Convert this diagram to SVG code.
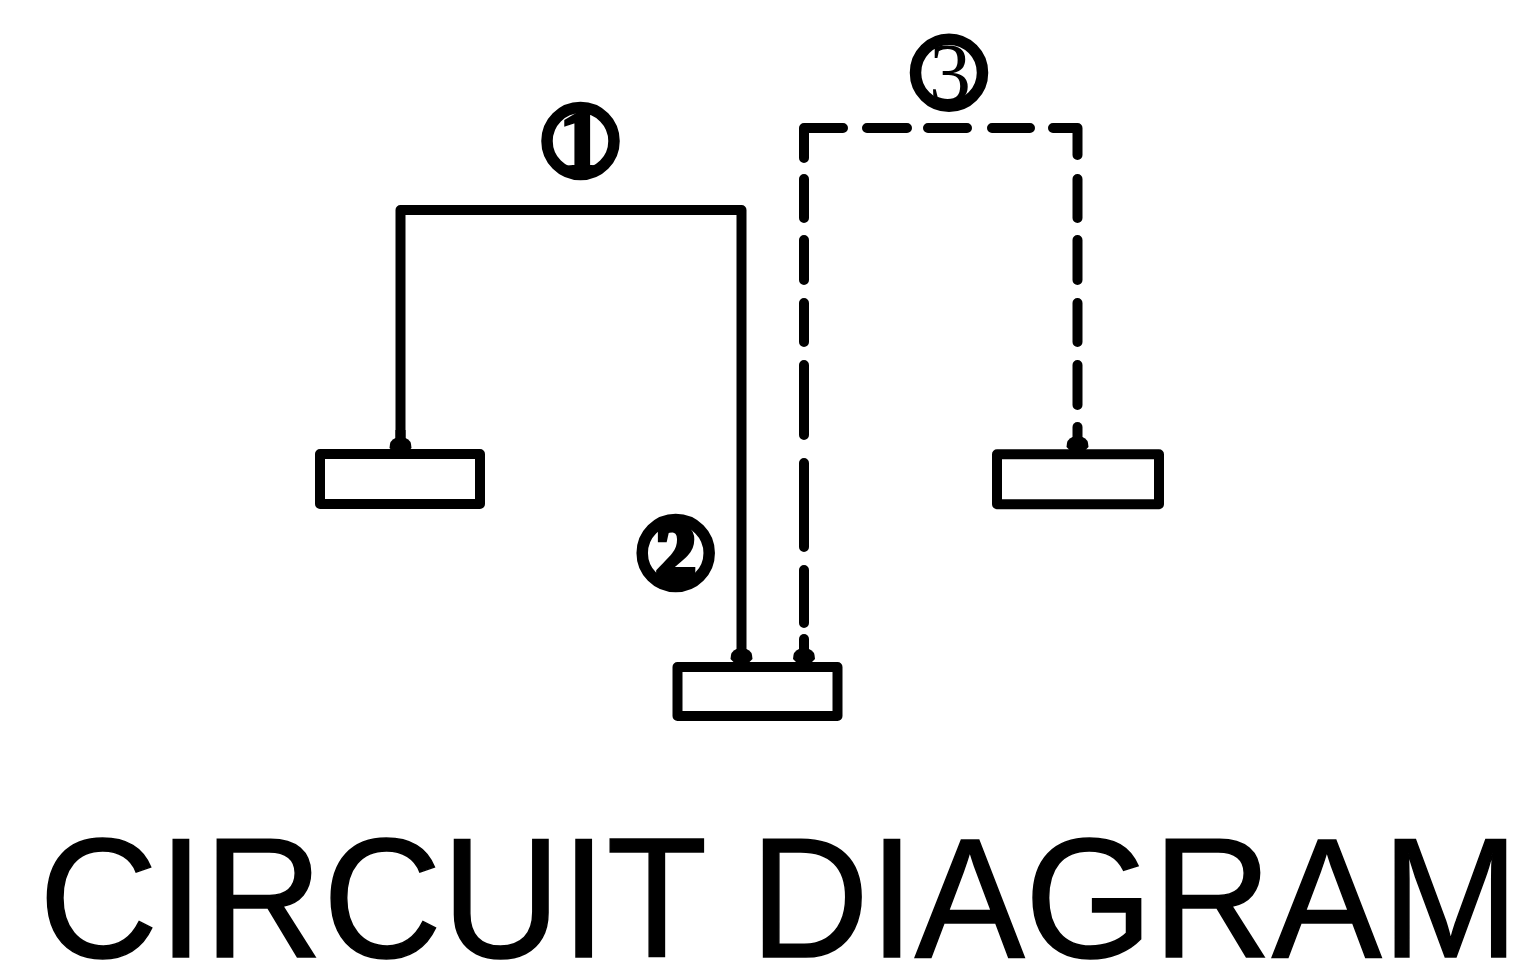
<svg xmlns="http://www.w3.org/2000/svg" width="1534" height="966" viewBox="0 0 1534 966">
<defs>
<marker id="arrow" markerUnits="userSpaceOnUse" markerWidth="22" markerHeight="24" refX="22" refY="12" orient="auto" viewBox="0 0 22 24"><path d="M22 12L11 23Q3 23 1 17V7Q3 1 11 1Z" fill="#000"/></marker>
<clipPath id="inside-2"><circle cx="675.7" cy="553" r="36"/></clipPath>
</defs>
<style>
.box{fill:#fff;stroke:#000;stroke-width:10;stroke-linejoin:round}
.wire{fill:none;stroke:#000;stroke-width:10;stroke-linejoin:round}
.dash{stroke-linecap:round}
.ring{fill:#fff;stroke:#000;stroke-width:11.5}
.num{font-family:"Liberation Serif",serif;text-anchor:middle;fill:#000}
.title{font-family:"Liberation Sans",Arial,sans-serif;font-size:171px;fill:#000;stroke:#000;stroke-width:1.5}
</style>
<rect width="1534" height="966" fill="#fff"/>
<g id="node-left"><rect class="box" x="320" y="454" width="160" height="50"/></g>
<g id="node-bottom"><rect class="box" x="677.5" y="667" width="160" height="49"/></g>
<g id="node-right"><rect class="box" x="997" y="454.3" width="162" height="50"/></g>
<g id="connectors">
<path class="wire" d="M400.5 459V210H741.5V670" marker-end="url(#arrow)"/>
<path class="wire" d="M400.5 430V459" marker-end="url(#arrow)"/>
<path class="wire dash" d="M804 158V128H843M867 128H907M928 128H967M992 128H1030M1053 128H1077.5V155M804 179V218M804 240V280M804 303V342M804 365V435M804 463V547M804 570V623M1077.5 179V218M1077.5 240V280M1077.5 303V342M1077.5 365V405"/>
<path class="wire dash" d="M804 639V650"/>
<path class="wire" d="M804 650V670" marker-end="url(#arrow)"/>
<path class="wire dash" d="M1077.5 427V440"/>
<path class="wire" d="M1077.5 440V458" marker-end="url(#arrow)"/>
</g>
<g id="label-1"><circle class="ring" cx="580.5" cy="141" r="33.5"/><text class="num" x="581" y="171" font-size="90" font-weight="700" stroke="#000" stroke-width="3">1</text></g>
<g id="label-2"><circle class="ring" cx="675.7" cy="553" r="33.5"/><text class="num" x="675.7" y="579" font-size="80" font-weight="700" stroke="#000" stroke-width="6" clip-path="url(#inside-2)">2</text></g>
<g id="label-3"><circle class="ring" cx="949" cy="72.7" r="33.5"/><text class="num" x="950" y="102" font-size="84">3</text></g>
<g id="title"><text class="title" x="39" y="957" textLength="1480" lengthAdjust="spacingAndGlyphs">CIRCUIT DIAGRAM</text></g>
</svg>
